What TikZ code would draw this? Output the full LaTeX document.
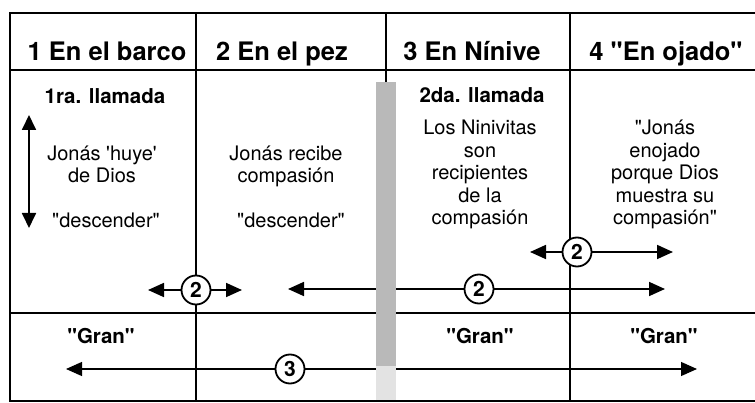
\documentclass[tikz,border=0pt]{standalone}
\usepackage{fontspec}
\newfontfamily\hv{TeX Gyre Heros}
\usetikzlibrary{arrows.meta}
\begin{document}
\begin{tikzpicture}[x=1pt,y=-1pt,
  frame/.style={line width=1.6pt},
  divl/.style={line width=1.2pt},
  hdr/.style={font=\hv\bfseries\fontsize{25.5}{28}\selectfont, anchor=base, inner sep=0pt},
  body/.style={font=\hv\fontsize{20}{22.5}\selectfont, align=center, anchor=base, inner sep=0pt},
  bl/.style={font=\hv\bfseries\fontsize{20.5}{22}\selectfont, anchor=base, inner sep=0pt},
  num/.style={circle, draw, line width=1.8pt, fill=white, inner sep=0pt, minimum size=29pt,
              font=\hv\bfseries\fontsize{21}{21}\selectfont},
  arr/.style={line width=1.8pt, -{Triangle[length=16pt,width=14pt]}},
  arrthin/.style={line width=1.2pt, -{Triangle[length=16pt,width=14pt]}},
  varr/.style={line width=1.8pt, {Triangle[length=15pt,width=14pt]}-{Triangle[length=15pt,width=14pt]}}
]
\useasboundingbox (0,0) rectangle (755,403);
% table lines
\draw[frame] (755,13) -- (10,13) -- (10,401) -- (755,401);
\draw[frame] (10,70) -- (755,70);
\draw[frame] (10,313) -- (755,313);
\draw[divl] (196,13) -- (196,401);
\draw[divl] (570,13) -- (570,401);
\draw[divl] (386,13) -- (386,82);
% headers
\node[hdr] (h1) at (107,61) {1 En el barco};
\node[hdr] (h2) at (282,61) {2 En el pez};
\node[hdr] (h3) at (472,61) {3 En Nínive};
\node[hdr] (h4) at (666,61) {4 "En ojado"};
% column texts (base = last line)
\node[bl] (t1a) at (105,104) {1ra. llamada};
\node[body] (t1b) at (102,183) {Jonás 'huye'\\de Dios};
\node[body] (t1c) at (106,228) {"descender"};
\node[body] (t2b) at (286,183) {Jonás recibe\\compasión};
\node[body] (t2c) at (291,228) {"descender"};
\node[bl] (t3a) at (482,103) {2da. llamada};
\node[body] (t3b) at (480,225) {Los Ninivitas\\son\\recipientes\\de la\\compasión};
\node[body] (t4) at (665,225) {"Jonás\\enojado\\porque Dios\\muestra su\\compasión"};
\node[bl] (g1) at (101,343) {"Gran"};
\node[bl] (g3) at (480,343) {"Gran"};
\node[bl] (g4) at (664,343) {"Gran"};
% vertical arrow
\coordinate (vt) at (29,115);
\coordinate (vb) at (29,228);
\draw[varr] (vt) -- (vb);
% circled arrows
\node[num] (n2a) at (196,290) {2};
\coordinate (a1l) at (148,290);
\coordinate (a1r) at (242,290);
\draw[arr] (n2a) -- (a1l);
\draw[arr] (n2a) -- (a1r);
\node[num] (n2b) at (479,289) {2};
\coordinate (a2l) at (288,289);
\coordinate (a2r) at (665,289);
\draw[arr] (n2b) -- (a2l);
\draw[arr] (n2b) -- (a2r);
\node[num] (n2c) at (577,252) {2};
\coordinate (a3l) at (530,252);
\coordinate (a3r) at (673,252);
\draw[arr] (n2c) -- (a3l);
\draw[arr] (n2c) -- (a3r);
\node[num] (n3) at (290,369) {3};
\coordinate (a4l) at (66,369);
\coordinate (a4r) at (697,369);
\draw[arrthin] (n3) -- (a4l);
\draw[arrthin] (n3) -- (a4r);
% shaded bar
\fill[gray!55] (376,82) rectangle (396,366);
\fill[gray!22] (376,366) rectangle (396,400);
\end{tikzpicture}
\end{document}
